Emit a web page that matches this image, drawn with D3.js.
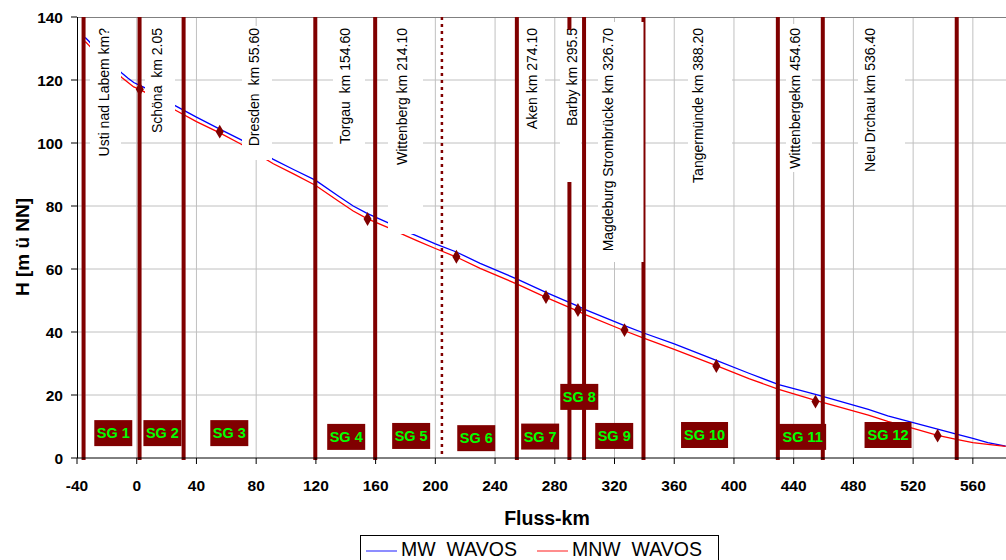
<!DOCTYPE html>
<html><head><meta charset="utf-8">
<script src="https://cdn.jsdelivr.net/npm/d3@7"></script>
<style>
html,body{margin:0;padding:0;background:#fff;}
svg{display:block;font-family:Arial,"Liberation Sans",sans-serif;}
</style></head>
<body>
<svg id="chart" width="1006" height="560"></svg>
<script>
// ---------- DATA ----------
const kmProfile = [-34.5,-32,-30,-20,-10,-6,-2,2,6,15,26,40,55.6,70,80,91.5,105,119.6,135,145,154.6,170,180,187.6,200,214.1,230,254.8,274.1,295.5,300,326.7,340,360,388.2,410,430,454.6,460,490,503,520,536.4,549,560,570,582];
const mwWavos  = [133.5,132.3,131.2,126.5,122.2,120.6,119.2,118.3,117.4,114.6,111.8,108.2,104.4,101.0,98.0,94.8,91.6,88.2,83.2,80.0,77.6,74.3,72.0,70.5,68.0,65.4,61.8,56.8,52.6,48.2,47.2,42.0,39.6,36.2,31.0,26.9,23.3,20.2,19.5,15.4,13.4,11.2,9.2,7.6,6.2,4.9,3.8];
const mnwWavos = [132.2,131.0,130.0,125.2,120.8,119.3,117.8,117.0,116.0,113.3,110.4,106.8,103.2,99.6,96.7,93.4,90.2,86.6,81.6,78.4,75.9,72.8,70.6,69.0,66.5,63.8,60.2,55.2,51.0,46.6,45.6,40.4,38.0,34.5,29.3,25.2,21.8,18.3,17.6,13.6,11.6,9.4,7.2,5.9,4.9,4.3,3.7];

const gaugeKm = [2.05,55.6,154.6,214.1,274.1,295.5,326.7,388.2,454.6,536.4];
const gaugeH  = [117.1,103.6,75.9,63.9,51.1,47.0,40.6,29.2,17.9,7.1];

const boundaryKm = [-35.6,1.9,31.4,119.6,159.7,254.6,289.8,299.6,339.4,429.4,459.5,549.2];
const dottedKm = [204.4];

const gaugeLabels = ["Usti nad Labem km?","Schöna  km 2.05","Dresden  km 55.60","Torgau  km 154.60","Wittenberg km 214.10","Aken km 274.10","Barby km 295.5","Magdeburg Strombrücke km 326.70","Tangermünde km 388.20","Wittenbergekm 454.60","Neu Drchau km 536.40"];
const gaugeLabelKm = [-21.7,13.8,78.7,139.6,177.8,264.8,291.5,315.7,375.9,440.9,491.1];

const sgNames = ["SG 1","SG 2","SG 3","SG 4","SG 5","SG 6","SG 7","SG 8","SG 9","SG 10","SG 11","SG 12"];
const sgKm = [-15.7,17.2,62.0,140.3,183.8,227.4,270.2,296.4,319.8,380.3,446.0,503.2];
const sgH  = [7.9,7.9,7.9,6.7,7.0,6.3,6.8,19.4,7.0,7.3,6.7,7.3];

const xTicks = [-40,0,40,80,120,160,200,240,280,320,360,400,440,480,520,560];
const yTicks = [0,20,40,60,80,100,120,140];
const seriesNames = ["MW  WAVOS","MNW  WAVOS"];
const seriesColors = ["#0000ff","#ff0000"];

// ---------- LAYOUT ----------
const L = 77, R = 1006, T = 17, B = 458;
const x = d3.scaleLinear().domain([-40, 582.2]).range([L, R]);
const y = d3.scaleLinear().domain([0, 140]).range([B, T]);
const svg = d3.select("#chart");
const brown = "#800000";

// white-box geometry for gauge labels (pixels)
const boxLeft   = [90,145,242,333,388,519,560,598,688,786,858];
const boxRight  = [121,175,272,365,423,545,581,643.5,732,812,905];
const boxTop    = [20,22,26,24,24,24,30,22,24,24,24];
const boxBottom = [160,130,160,150,234,130,182,262,188,172,172];

// gridlines
const grid = svg.append("g");
grid.selectAll("line.h").data(yTicks.filter(v=>v>0 && v<140)).join("line")
  .attr("x1",L).attr("x2",R).attr("y1",d=>y(d)).attr("y2",d=>y(d))
  .attr("stroke","#c0c0c0").attr("stroke-width",1);
grid.selectAll("line.v").data(xTicks.filter(v=>v>-40)).join("line")
  .attr("y1",T).attr("y2",B).attr("x1",d=>x(d)).attr("x2",d=>x(d))
  .attr("stroke","#c0c0c0").attr("stroke-width",1);
svg.append("line").attr("x1",L).attr("x2",R).attr("y1",T+0.5).attr("y2",T+0.5).attr("stroke","#808080");

// series lines
const line = vals => d3.line().x((d,i)=>x(kmProfile[i])).y((d,i)=>y(vals[i]))(vals);
svg.append("path").attr("d",line(mwWavos)).attr("fill","none").attr("stroke",seriesColors[0]).attr("stroke-width",1.3);
svg.append("path").attr("d",line(mnwWavos)).attr("fill","none").attr("stroke",seriesColors[1]).attr("stroke-width",1.3);

// boundary lines
svg.append("g").selectAll("line").data(boundaryKm).join("line")
  .attr("x1",d=>x(d)).attr("x2",d=>x(d)).attr("y1",T).attr("y2",B+2)
  .attr("stroke",brown).attr("stroke-width",4);
svg.append("g").selectAll("line").data(dottedKm).join("line")
  .attr("x1",d=>x(d)).attr("x2",d=>x(d)).attr("y1",T).attr("y2",B)
  .attr("stroke",brown).attr("stroke-width",2.5).attr("stroke-dasharray","3,4");

// gauge diamonds
const diamond = d3.symbol().type(d3.symbolDiamond).size(56);
svg.append("g").selectAll("path").data(gaugeKm).join("path")
  .attr("d",diamond)
  .attr("transform",(d,i)=>`translate(${x(d)},${y(gaugeH[i])})`)
  .attr("fill",brown);

// gauge label boxes and text
const lbl = svg.append("g");
lbl.selectAll("rect").data(gaugeLabels).join("rect")
  .attr("x",(d,i)=>boxLeft[i]).attr("width",(d,i)=>boxRight[i]-boxLeft[i])
  .attr("y",(d,i)=>boxTop[i]).attr("height",(d,i)=>boxBottom[i]-boxTop[i])
  .attr("fill","#fff");
lbl.selectAll("text").data(gaugeLabels).join("text")
  .attr("transform",(d,i)=>`translate(${x(gaugeLabelKm[i])+5},28) rotate(-90)`)
  .attr("text-anchor","end").attr("font-size",14).attr("fill","#000")
  .style("white-space","pre").attr("xml:space","preserve")
  .text(d=>d);

// SG boxes
const sg = svg.append("g").selectAll("g").data(sgNames).join("g")
  .attr("transform",(d,i)=>`translate(${x(sgKm[i])},${y(sgH[i])})`);
sg.append("rect")
  .attr("x",d=>d.length>4?-23.5:-19).attr("width",d=>d.length>4?47:38)
  .attr("y",-13).attr("height",26).attr("fill",brown);
sg.append("text").attr("text-anchor","middle").attr("dy","0.36em")
  .attr("font-size",14.5).attr("font-weight","bold").attr("fill","#00ff00")
  .text(d=>d);

// axes
const xAxis = svg.append("g").attr("transform",`translate(0,${B})`);
xAxis.append("line").attr("x1",L).attr("x2",R).attr("stroke","#000");
xAxis.selectAll("line.t").data(xTicks).join("line")
  .attr("x1",d=>x(d)).attr("x2",d=>x(d)).attr("y1",0).attr("y2",6).attr("stroke","#000");
xAxis.selectAll("text").data(xTicks).join("text")
  .attr("x",d=>x(d)).attr("y",33).attr("text-anchor","middle")
  .attr("font-size",15.5).attr("font-weight","bold").text(d=>d);

const yAxis = svg.append("g");
yAxis.append("line").attr("x1",L+0.5).attr("x2",L+0.5).attr("y1",T).attr("y2",B).attr("stroke","#000");
yAxis.selectAll("line.t").data(yTicks).join("line")
  .attr("x1",L-6).attr("x2",L).attr("y1",d=>y(d)).attr("y2",d=>y(d)).attr("stroke","#000");
yAxis.selectAll("text").data(yTicks).join("text")
  .attr("x",63).attr("y",d=>y(d)).attr("dy","0.36em").attr("text-anchor","end")
  .attr("font-size",15.5).attr("font-weight","bold").text(d=>d);

svg.append("text").attr("transform","translate(29,247) rotate(-90)")
  .attr("text-anchor","middle").attr("font-size",19).attr("font-weight","bold")
  .text("H [m ü NN]");
svg.append("text").attr("x",547).attr("y",525).attr("text-anchor","middle")
  .attr("font-size",19.5).attr("font-weight","bold").text("Fluss-km");

// legend
const leg = svg.append("g");
leg.append("rect").attr("x",360.5).attr("y",535.5).attr("width",358).attr("height",40)
  .attr("fill","#fff").attr("stroke","#000");
const legX = [366,537];
seriesNames.forEach((n,i)=>{
  leg.append("line").attr("x1",legX[i]).attr("x2",legX[i]+31).attr("y1",551).attr("y2",551)
    .attr("stroke",seriesColors[i]).attr("stroke-opacity",0.6).attr("stroke-width",1.5);
  leg.append("text").attr("x",legX[i]+35).attr("y",556).attr("font-size",19.5)
    .style("white-space","pre").attr("xml:space","preserve").text(n);
});
</script>
</body></html>
